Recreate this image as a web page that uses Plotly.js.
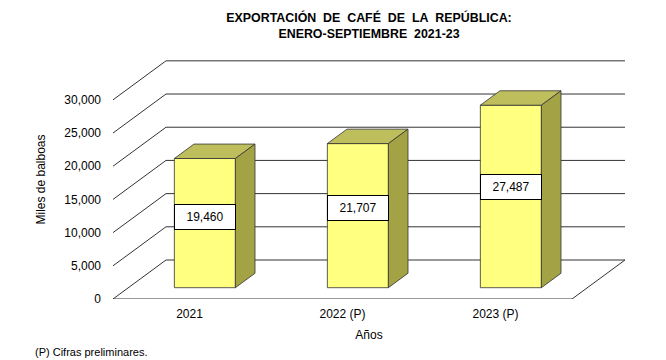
<!DOCTYPE html>
<html>
<head>
<meta charset="utf-8">
<script src="https://cdn.plot.ly/plotly-3.0.1.min.js"></script>
<style>html,body{margin:0;padding:0;background:#fff;}#chart{width:666px;height:360px;}</style>
</head>
<body>
<div id="chart"></div>
<script>
// ---- data ----
const categories = ['2021', '2022 (P)', '2023 (P)'];
const values = [19460, 21707, 27487];
const yTicks = [0, 5000, 10000, 15000, 20000, 25000, 30000];
const titleLines = ['EXPORTACIÓN\u00a0 DE\u00a0 CAFÉ\u00a0 DE\u00a0 LA\u00a0 REPÚBLICA:', 'ENERO-SEPTIEMBRE\u00a0 2021-23'];
const yTitle = 'Miles de balboas';
const xTitle = 'Años';
const footnote = '(P) Cifras preliminares.';

// ---- 3D projection parameters (in axis units) ----
const DX = 0.3464;   // depth shift along x (category units)
const DY = 5874;     // depth shift along y (value units)
const F1 = 0.29, F2 = 0.66; // bar front/back depth fractions
const BW = 0.399;    // bar width
const XMIN = -0.5, XMAX = categories.length - 0.5;

const frontColor = '#FFFF80', topColor = '#BEBE5C', sideColor = '#A3A345';
const lineColor = '#333333';

const xs = categories.map((c, i) => i + F1 * DX);
const base = F1 * DY;
const dd = F2 - F1;

const shapes = [];
// gridlines (diagonal on left + horizontal back wall)
yTicks.forEach(v => {
  shapes.push({type: 'line', xref: 'x', yref: 'y', x0: XMIN, y0: v, x1: XMIN + DX, y1: v + DY,
    line: {color: lineColor, width: 1}, layer: 'below'});
  shapes.push({type: 'line', xref: 'x', yref: 'y', x0: XMIN + DX, y0: v + DY, x1: XMAX + DX, y1: v + DY,
    line: {color: lineColor, width: 1}, layer: 'below'});
});
// floor front and right edge
shapes.push({type: 'line', xref: 'x', yref: 'y', x0: XMIN, y0: 0, x1: XMAX, y1: 0,
  line: {color: lineColor, width: 1}, layer: 'below'});
shapes.push({type: 'line', xref: 'x', yref: 'y', x0: XMAX, y0: 0, x1: XMAX + DX, y1: DY,
  line: {color: lineColor, width: 1}, layer: 'below'});

// bar top and side faces
values.forEach((v, i) => {
  const xl = xs[i] - BW / 2, xr = xs[i] + BW / 2, top = base + v;
  const ddx = dd * DX, ddy = dd * DY;
  shapes.push({type: 'path', xref: 'x', yref: 'y',
    path: `M${xl},${top} L${xr},${top} L${xr + ddx},${top + ddy} L${xl + ddx},${top + ddy} Z`,
    fillcolor: topColor, line: {color: lineColor, width: 0.8}, layer: 'above'});
  shapes.push({type: 'path', xref: 'x', yref: 'y',
    path: `M${xr},${base} L${xr},${top} L${xr + ddx},${top + ddy} L${xr + ddx},${base + ddy} Z`,
    fillcolor: sideColor, line: {color: lineColor, width: 0.8}, layer: 'above'});
});

const annotations = values.map((v, i) => ({
  x: xs[i], y: base + v * 0.55, xref: 'x', yref: 'y',
  text: v.toLocaleString('en-US'), showarrow: false,
  bgcolor: '#ffffff', bordercolor: '#000000', borderwidth: 1, borderpad: 3,
  width: 54, height: 18,
  font: {family: 'Liberation Sans, Arial, sans-serif', size: 12, color: '#000'}
}));
annotations.push({
  xref: 'paper', yref: 'paper', x: (33 - 113) / 512, y: (299 - 352) / 239,
  xanchor: 'left', yanchor: 'middle', showarrow: false, text: footnote,
  font: {family: 'Liberation Sans, Arial, sans-serif', size: 11, color: '#000'}
});

const trace = {
  type: 'bar', x: xs, y: values, base: values.map(() => base), width: BW,
  marker: {color: frontColor, line: {color: lineColor, width: 0.8}},
  hoverinfo: 'skip'
};

const layout = {
  width: 666, height: 360,
  margin: {l: 113, r: 41, t: 60, b: 61},
  paper_bgcolor: '#ffffff', plot_bgcolor: 'rgba(0,0,0,0)',
  showlegend: false,
  font: {family: 'Liberation Sans, Arial, sans-serif', size: 12, color: '#000'},
  title: {
    text: '<b>' + titleLines.join('<br>') + '</b>',
    x: 0.5, xanchor: 'center', xref: 'paper', y: 0.94, yanchor: 'top', yref: 'container',
    font: {family: 'Liberation Sans, Arial, sans-serif', size: 12.4, color: '#000'}
  },
  xaxis: {
    range: [XMIN, XMAX + DX], tickvals: categories.map((c, i) => i), ticktext: categories,
    showgrid: false, zeroline: false, showline: false, ticks: '', ticklabelstandoff: 6,
    tickfont: {size: 12},
    title: {text: xTitle, standoff: 10, font: {size: 12}}
  },
  yaxis: {
    range: [0, 36000], tickvals: yTicks, tickformat: ',d',
    showgrid: false, zeroline: false, showline: false, ticks: '', ticklabelstandoff: 11,
    tickfont: {size: 12},
    title: {text: yTitle, standoff: 16, font: {size: 12}}
  },
  shapes: shapes,
  annotations: annotations,
  bargap: 0
};

Plotly.newPlot('chart', [trace], layout, {staticPlot: true, displayModeBar: false});
</script>
</body>
</html>
